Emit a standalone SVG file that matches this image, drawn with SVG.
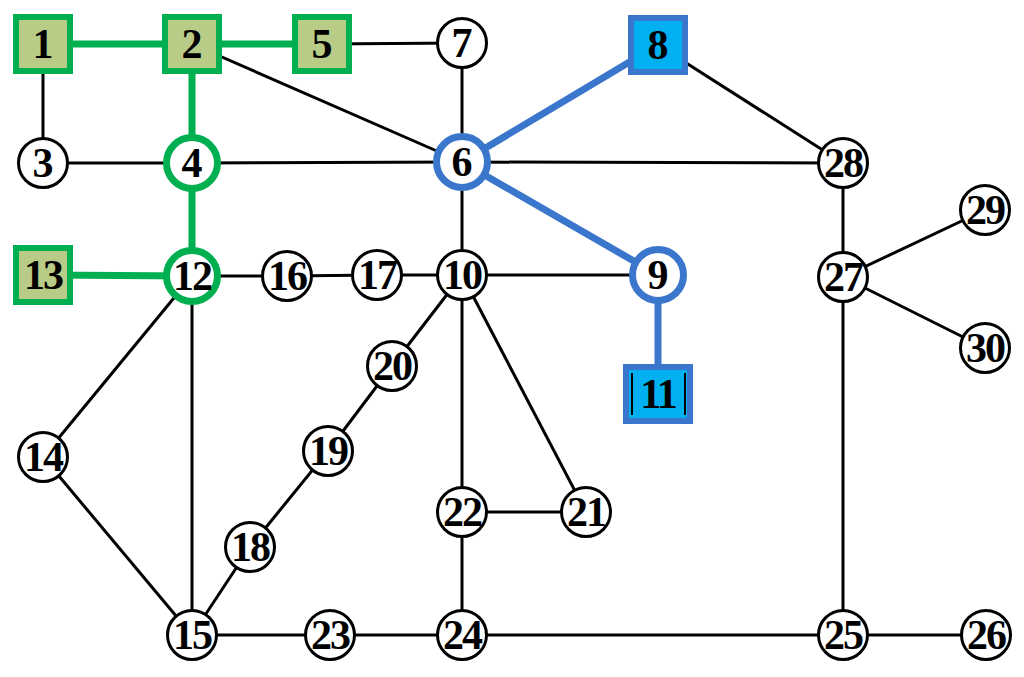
<svg xmlns="http://www.w3.org/2000/svg" width="1024" height="677" viewBox="0 0 1024 677">
<style>
.e{stroke:#000;stroke-width:3;fill:none}
.g{stroke:#00B050;stroke-width:7;fill:none}
.b{stroke:#3A76CC;stroke-width:7;fill:none}
.n{fill:#fff;stroke:#000;stroke-width:3}
.ng{fill:#fff;stroke:#00B050;stroke-width:7}
.nb{fill:#fff;stroke:#3A76CC;stroke-width:7}
.sg{fill:#B8CC88;stroke:#00B050;stroke-width:6}
.sb{fill:#00B0F0;stroke:#3A76CC;stroke-width:6}
text{font-family:"Liberation Serif","Times New Roman",serif;font-weight:bold;font-size:42px;text-anchor:middle;fill:#000}
text.d{letter-spacing:-2px}
</style>
<rect width="1024" height="677" fill="#fff"/>
<g id="connectors">
<line class="e" x1="43" y1="44" x2="43" y2="163"/>
<line class="e" x1="43" y1="163" x2="192" y2="163"/>
<line class="e" x1="192" y1="163" x2="462" y2="162"/>
<line class="e" x1="192" y1="44" x2="462" y2="162"/>
<line class="e" x1="322" y1="44" x2="462" y2="43"/>
<line class="e" x1="462" y1="43" x2="462" y2="162"/>
<line class="e" x1="462" y1="162" x2="843" y2="163"/>
<line class="e" x1="658" y1="45" x2="843" y2="163"/>
<line class="e" x1="843" y1="163" x2="843" y2="277"/>
<line class="e" x1="843" y1="277" x2="985" y2="210"/>
<line class="e" x1="843" y1="277" x2="985" y2="348"/>
<line class="e" x1="843" y1="277" x2="843" y2="635"/>
<line class="e" x1="462" y1="162" x2="462" y2="275"/>
<line class="e" x1="192" y1="276" x2="287" y2="276"/>
<line class="e" x1="287" y1="276" x2="377" y2="275"/>
<line class="e" x1="377" y1="275" x2="462" y2="275"/>
<line class="e" x1="462" y1="275" x2="658" y2="275"/>
<line class="e" x1="462" y1="275" x2="392" y2="366"/>
<line class="e" x1="392" y1="366" x2="328" y2="451"/>
<line class="e" x1="328" y1="451" x2="250" y2="547"/>
<line class="e" x1="250" y1="547" x2="192" y2="635"/>
<line class="e" x1="462" y1="275" x2="462" y2="512"/>
<line class="e" x1="462" y1="275" x2="586" y2="512"/>
<line class="e" x1="462" y1="512" x2="586" y2="512"/>
<line class="e" x1="462" y1="512" x2="462" y2="635"/>
<line class="e" x1="192" y1="276" x2="43" y2="457"/>
<line class="e" x1="192" y1="276" x2="192" y2="635"/>
<line class="e" x1="43" y1="457" x2="192" y2="635"/>
<line class="e" x1="192" y1="635" x2="330" y2="635"/>
<line class="e" x1="330" y1="635" x2="462" y2="635"/>
<line class="e" x1="462" y1="635" x2="843" y2="635"/>
<line class="e" x1="843" y1="635" x2="986" y2="635"/>
<line class="g" x1="43" y1="44" x2="192" y2="44"/>
<line class="g" x1="192" y1="44" x2="322" y2="44"/>
<line class="g" x1="192" y1="44" x2="192" y2="163"/>
<line class="g" x1="192" y1="163" x2="192" y2="276"/>
<line class="g" x1="43" y1="275" x2="192" y2="276"/>
<line class="b" x1="658" y1="45" x2="462" y2="162"/>
<line class="b" x1="462" y1="162" x2="658" y2="275"/>
<line class="b" x1="658" y1="275" x2="658" y2="394"/>
</g>
<g id="n1"><rect class="sg" x="16" y="17" width="54" height="54"/><text x="43" y="58">1</text></g>
<g id="n2"><rect class="sg" x="165" y="17" width="54" height="54"/><text x="192" y="58">2</text></g>
<g id="n5"><rect class="sg" x="295" y="17" width="54" height="54"/><text x="322" y="58">5</text></g>
<g id="n13"><rect class="sg" x="16" y="248" width="54" height="54"/><text class="d" x="43" y="289">13</text></g>
<g id="n8"><rect class="sb" x="631" y="18" width="54" height="54"/><text x="658" y="59">8</text></g>
<g id="n11"><rect class="sb" x="626" y="367" width="64" height="54"/><line x1="632" y1="373" x2="632" y2="415" stroke="#000" stroke-width="2"/><line x1="685" y1="373" x2="685" y2="415" stroke="#000" stroke-width="2"/><text class="d" x="658" y="408">11</text></g>
<g id="n3"><circle class="n" cx="43" cy="163" r="24.5"/><text x="43" y="177">3</text></g>
<g id="n4"><circle class="ng" cx="192" cy="163" r="25.5"/><text x="192" y="177">4</text></g>
<g id="n12"><circle class="ng" cx="192" cy="276" r="25.5"/><text class="d" x="192" y="290">12</text></g>
<g id="n6"><circle class="nb" cx="462" cy="162" r="25.5"/><text x="462" y="176">6</text></g>
<g id="n9"><circle class="nb" cx="658" cy="275" r="25.5"/><text x="658" y="289">9</text></g>
<g id="n7"><circle class="n" cx="462" cy="43" r="24.5"/><text x="462" y="57">7</text></g>
<g id="n28"><circle class="n" cx="843" cy="163" r="24.5"/><text class="d" x="843" y="177">28</text></g>
<g id="n29"><circle class="n" cx="985" cy="210" r="24.5"/><text class="d" x="985" y="224">29</text></g>
<g id="n27"><circle class="n" cx="843" cy="277" r="24.5"/><text class="d" x="843" y="291">27</text></g>
<g id="n30"><circle class="n" cx="985" cy="348" r="24.5"/><text class="d" x="985" y="362">30</text></g>
<g id="n16"><circle class="n" cx="287" cy="276" r="24.5"/><text class="d" x="287" y="290">16</text></g>
<g id="n17"><circle class="n" cx="377" cy="275" r="24.5"/><text class="d" x="377" y="289">17</text></g>
<g id="n10"><circle class="n" cx="462" cy="275" r="24.5"/><text class="d" x="462" y="289">10</text></g>
<g id="n20"><circle class="n" cx="392" cy="366" r="24.5"/><text class="d" x="392" y="380">20</text></g>
<g id="n19"><circle class="n" cx="328" cy="451" r="24.5"/><text class="d" x="328" y="465">19</text></g>
<g id="n18"><circle class="n" cx="250" cy="547" r="24.5"/><text class="d" x="250" y="561">18</text></g>
<g id="n14"><circle class="n" cx="43" cy="457" r="24.5"/><text class="d" x="43" y="471">14</text></g>
<g id="n15"><circle class="n" cx="192" cy="635" r="24.5"/><text class="d" x="192" y="649">15</text></g>
<g id="n23"><circle class="n" cx="330" cy="635" r="24.5"/><text class="d" x="330" y="649">23</text></g>
<g id="n24"><circle class="n" cx="462" cy="635" r="24.5"/><text class="d" x="462" y="649">24</text></g>
<g id="n22"><circle class="n" cx="462" cy="512" r="24.5"/><text class="d" x="462" y="526">22</text></g>
<g id="n21"><circle class="n" cx="586" cy="512" r="24.5"/><text class="d" x="586" y="526">21</text></g>
<g id="n25"><circle class="n" cx="843" cy="635" r="24.5"/><text class="d" x="843" y="649">25</text></g>
<g id="n26"><circle class="n" cx="986" cy="635" r="24.5"/><text class="d" x="986" y="649">26</text></g>
</svg>
